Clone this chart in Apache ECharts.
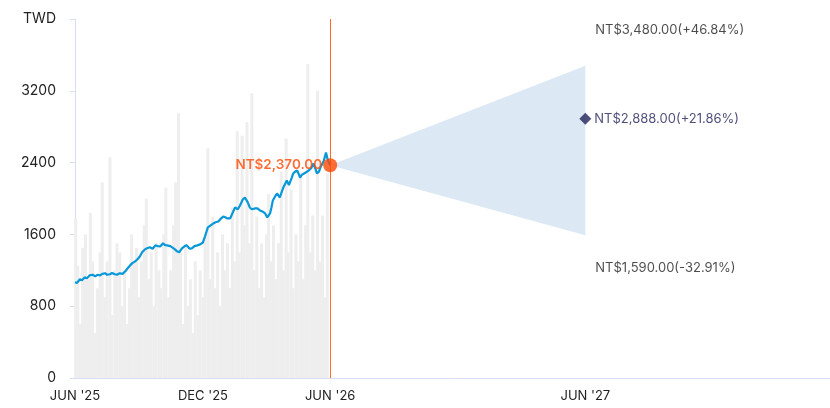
<!DOCTYPE html>
<html>
<head>
<meta charset="utf-8">
<script src="https://cdn.jsdelivr.net/npm/echarts@6/dist/echarts.min.js"></script>
<style>
  html, body { margin: 0; padding: 0; background: #fff; }
  #chart { width: 830px; height: 408px; }
</style>
</head>
<body>
<div id="chart"></div>
<script>
// price history (TWD)
const priceDates = [
  "2025-06-01", "2025-06-04", "2025-06-08", "2025-06-11", "2025-06-15", "2025-06-18", "2025-06-22", "2025-06-26",
  "2025-06-30", "2025-07-03", "2025-07-07", "2025-07-10", "2025-07-14", "2025-07-17", "2025-07-21", "2025-07-24",
  "2025-07-28", "2025-07-31", "2025-08-04", "2025-08-08", "2025-08-12", "2025-08-15", "2025-08-19", "2025-08-22",
  "2025-08-26", "2025-08-29", "2025-09-02", "2025-09-05", "2025-09-09", "2025-09-12", "2025-09-16", "2025-09-20",
  "2025-09-24", "2025-09-27", "2025-10-01", "2025-10-05", "2025-10-08", "2025-10-11", "2025-10-15", "2025-10-18",
  "2025-10-22", "2025-10-25", "2025-10-28", "2025-11-01", "2025-11-05", "2025-11-08", "2025-11-12", "2025-11-15",
  "2025-11-19", "2025-11-23", "2025-11-27", "2025-12-01", "2025-12-04", "2025-12-08", "2025-12-12", "2025-12-16",
  "2025-12-19", "2025-12-23", "2025-12-26", "2025-12-30", "2026-01-02", "2026-01-05", "2026-01-09", "2026-01-13",
  "2026-01-16", "2026-01-20", "2026-01-23", "2026-01-27", "2026-01-30", "2026-02-03", "2026-02-06", "2026-02-09",
  "2026-02-11", "2026-02-14", "2026-02-17", "2026-02-20", "2026-02-24", "2026-02-28", "2026-03-03", "2026-03-05",
  "2026-03-07", "2026-03-09", "2026-03-11", "2026-03-14", "2026-03-17", "2026-03-21", "2026-03-24", "2026-03-26",
  "2026-03-29", "2026-03-31", "2026-04-03", "2026-04-05", "2026-04-07", "2026-04-09", "2026-04-12", "2026-04-15",
  "2026-04-19", "2026-04-21", "2026-04-23", "2026-04-27", "2026-05-01", "2026-05-05", "2026-05-08", "2026-05-11",
  "2026-05-13", "2026-05-16", "2026-05-18", "2026-05-21", "2026-05-23", "2026-05-26", "2026-05-28", "2026-05-29",
  "2026-06-01"
];
const priceValues = [
  1067, 1060, 1100, 1090, 1122, 1110, 1144, 1150,
  1133, 1150, 1144, 1160, 1167, 1150, 1156, 1170,
  1156, 1150, 1167, 1160, 1189, 1220, 1256, 1280,
  1300, 1320, 1356, 1400, 1433, 1445, 1456, 1440,
  1478, 1470, 1467, 1500, 1480, 1478, 1470, 1456,
  1433, 1411, 1400, 1444, 1470, 1478, 1440, 1444,
  1470, 1478, 1489, 1510, 1578, 1678, 1700, 1722,
  1735, 1744, 1770, 1800, 1790, 1778, 1778, 1850,
  1900, 1880, 1922, 1989, 2011, 1960, 1900, 1880,
  1867, 1890, 1889, 1870, 1856, 1833, 1789, 1810,
  1833, 1900, 1978, 2020, 2056, 2011, 2080, 2122,
  2170, 2200, 2150, 2144, 2230, 2278, 2300, 2311,
  2233, 2260, 2278, 2290, 2311, 2340, 2389, 2330,
  2278, 2300, 2344, 2390, 2422, 2511, 2450, 2422,
  2370
];

// grey background bars
const volDates = [
  "2025-06-02", "2025-06-05", "2025-06-09", "2025-06-12", "2025-06-16", "2025-06-19", "2025-06-23", "2025-06-26",
  "2025-06-30", "2025-07-03", "2025-07-07", "2025-07-10", "2025-07-14", "2025-07-17", "2025-07-21", "2025-07-24",
  "2025-07-28", "2025-07-31", "2025-08-04", "2025-08-07", "2025-08-11", "2025-08-14", "2025-08-18", "2025-08-21",
  "2025-08-25", "2025-08-28", "2025-09-01", "2025-09-04", "2025-09-08", "2025-09-11", "2025-09-15", "2025-09-18",
  "2025-09-22", "2025-09-25", "2025-09-29", "2025-10-02", "2025-10-06", "2025-10-09", "2025-10-13", "2025-10-16",
  "2025-10-20", "2025-10-23", "2025-10-27", "2025-10-30", "2025-11-03", "2025-11-06", "2025-11-10", "2025-11-13",
  "2025-11-17", "2025-11-20", "2025-11-24", "2025-11-27", "2025-12-01", "2025-12-04", "2025-12-08", "2025-12-11",
  "2025-12-15", "2025-12-18", "2025-12-22", "2025-12-25", "2025-12-29", "2026-01-01", "2026-01-05", "2026-01-08",
  "2026-01-12", "2026-01-15", "2026-01-19", "2026-01-22", "2026-01-26", "2026-01-29", "2026-02-02", "2026-02-05",
  "2026-02-09", "2026-02-12", "2026-02-16", "2026-02-19", "2026-02-23", "2026-02-26", "2026-03-02", "2026-03-05",
  "2026-03-09", "2026-03-12", "2026-03-16", "2026-03-19", "2026-03-23", "2026-03-26", "2026-03-30", "2026-04-02",
  "2026-04-06", "2026-04-09", "2026-04-13", "2026-04-16", "2026-04-20", "2026-04-23", "2026-04-27", "2026-04-30",
  "2026-05-04", "2026-05-07", "2026-05-11", "2026-05-14", "2026-05-18", "2026-05-21", "2026-05-25", "2026-05-28"
];
const volValues = [
  1780, 1250, 600, 1450, 1600, 1100, 1840, 1300,
  500, 1000, 1400, 2180, 900, 1300, 2460, 700,
  1200, 1500, 1400, 800, 1200, 600, 1000, 1600,
  1300, 1450, 900, 1300, 1700, 2000, 1100, 1400,
  800, 1500, 1200, 1000, 1600, 2120, 900, 1200,
  1700, 2180, 2950, 1400, 600, 1500, 800, 1100,
  500, 1300, 700, 1200, 900, 1600, 2560, 1100,
  1800, 1000, 1400, 800, 1600, 1200, 1500, 1000,
  1900, 1300, 2750, 1400, 2700, 1700, 2850, 1500,
  3170, 1200, 1800, 1000, 1500, 900, 1600, 2050,
  1300, 1700, 1100, 1500, 2300, 1200, 2670, 1400,
  2100, 1000, 1600, 1300, 2300, 1100, 1700, 3500,
  1400, 1810, 1200, 3200, 1300, 1810, 900, 2280
];

// forecast
const lastDate = "2026-06-01";
const lastPrice = 2370;
const targetDate = "2027-06-01";
const targetHigh = 3480;
const targetMid = 2888;
const targetLow = 1590;
const targetLabels = ["NT$3,480.00(+46.84%)", "NT$2,888.00(+21.86%)", "NT$1,590.00(-32.91%)"];
const lastLabel = "NT$2,370.00";

// axes
const xMin = "2025-06-01";
const xMax = "2028-05-16";
const xTickDates = ["2025-06-01", "2025-12-01", "2026-06-01", "2027-06-01"];
const xTickLabels = ["JUN '25", "DEC '25", "JUN '26", "JUN '27"];
const yTicks = [0, 800, 1600, 2400, 3200, 4000];
const yUnit = "TWD";

const FONT = "Inter";
const ms = (d) => Date.parse(d);
const xTickMs = xTickDates.map(ms);

const chart = echarts.init(document.getElementById("chart"));
chart.setOption({
  animation: false,
  textStyle: { fontFamily: FONT },
  grid: { left: 75, right: 0, top: 19, bottom: 30 },
  xAxis: {
    type: "value",
    min: ms(xMin),
    max: ms(xMax),
    axisLine: { show: true, onZero: false, lineStyle: { color: "#d8dff0", width: 1 } },
    axisTick: { show: false },
    splitLine: { show: false },
    axisLabel: {
      customValues: xTickMs,
      margin: 12,
      fontSize: 13,
      color: "#222",
      fontFamily: FONT,
      formatter(value) {
        const i = xTickMs.indexOf(value);
        return i >= 0 ? xTickLabels[i] : "";
      },
    },
  },
  yAxis: {
    type: "value",
    min: yTicks[0],
    max: yTicks[yTicks.length - 1],
    interval: 800,
    axisLine: { show: true, lineStyle: { color: "#d8dff0", width: 1 } },
    axisTick: { show: true, length: 5, lineStyle: { color: "#d8dff0" } },
    splitLine: { show: false },
    axisLabel: {
      margin: 19,
      fontSize: 14,
      color: "#222",
      fontFamily: FONT,
      formatter(value) {
        return value === yTicks[yTicks.length - 1] ? yUnit : String(value);
      },
    },
  },
  series: [
    {
      type: "bar",
      data: volDates.map((d, i) => [ms(d), volValues[i]]),
      barWidth: 3,
      itemStyle: { color: "#eeeeee" },
      silent: true,
      z: 1,
    },
    {
      type: "custom",
      silent: true,
      z: 2,
      data: [[ms(lastDate), lastPrice, ms(targetDate), targetHigh, targetLow]],
      renderItem(params, api) {
        const p0 = api.coord([api.value(0), api.value(1)]);
        const p1 = api.coord([api.value(2), api.value(3)]);
        const p2 = api.coord([api.value(2), api.value(4)]);
        return {
          type: "polygon",
          shape: { points: [p0, p1, p2] },
          style: { fill: "#dce8f4" },
        };
      },
    },
    {
      type: "line",
      data: priceDates.map((d, i) => [ms(d), priceValues[i]]),
      showSymbol: false,
      lineStyle: { color: "#0898d8", width: 2.2 },
      z: 3,
      markLine: {
        silent: true,
        symbol: "none",
        label: { show: false },
        lineStyle: { color: "#ff6a2b", width: 1, type: "solid" },
        data: [{ xAxis: ms(lastDate) }],
      },
    },
    {
      type: "scatter",
      data: [[ms(lastDate), lastPrice]],
      symbolSize: 14,
      itemStyle: { color: "#ff4805" },
      z: 5,
      label: {
        show: true,
        position: "left",
        distance: 1,
        formatter: lastLabel,
        color: "#ff4805",
        fontSize: 13.5,
        fontWeight: 600,
        fontFamily: FONT,
      },
    },
    {
      type: "scatter",
      data: [[ms(targetDate), targetMid]],
      symbol: "diamond",
      symbolSize: 12,
      itemStyle: { color: "#22235a" },
      z: 5,
      label: {
        show: true,
        position: "right",
        distance: 3,
        formatter: targetLabels[1],
        color: "#22235a",
        fontSize: 13,
        fontFamily: FONT,
      },
    },
    {
      type: "scatter",
      data: [
        { value: [ms(targetDate), targetHigh], label: { formatter: targetLabels[0], offset: [0, -36] } },
        { value: [ms(targetDate), targetLow], label: { formatter: targetLabels[2], offset: [0, 33] } },
      ],
      symbolSize: 0,
      z: 5,
      label: {
        show: true,
        position: "right",
        distance: 10,
        color: "#1e1e1e",
        fontSize: 13,
        fontFamily: FONT,
      },
    },
  ],
});
</script>
</body>
</html>
